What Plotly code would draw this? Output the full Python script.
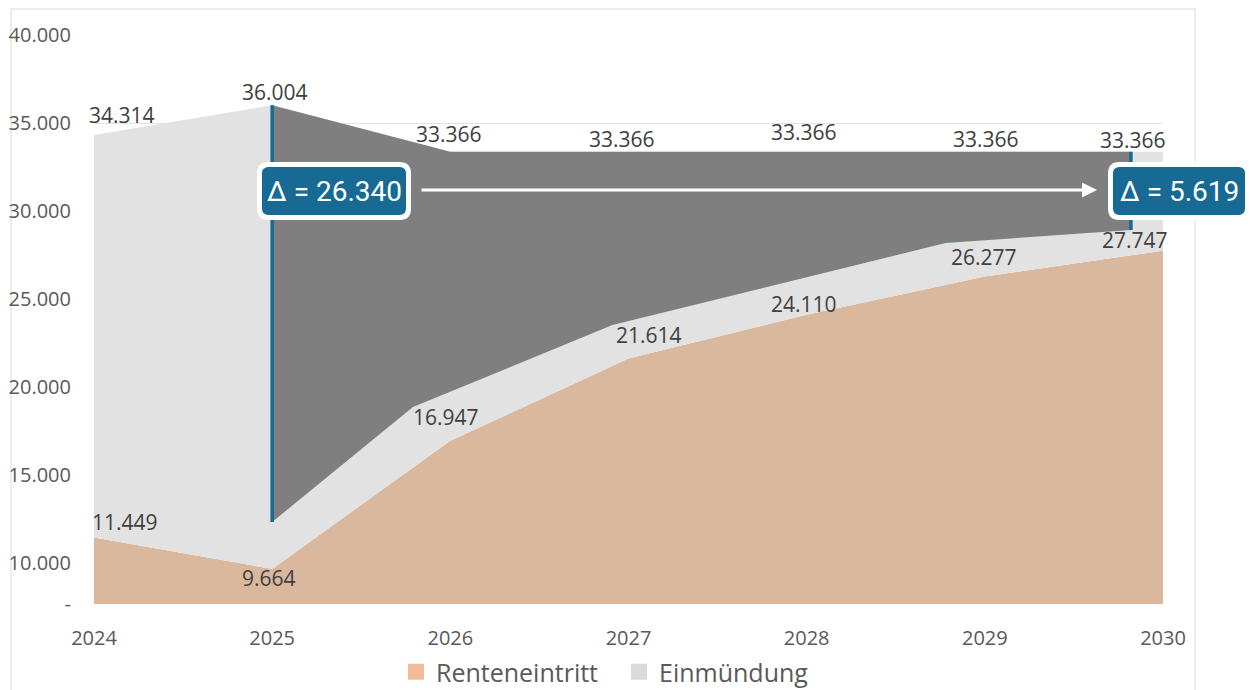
import plotly.graph_objects as go

# ---------------- data ----------------
years = [2024, 2025, 2026, 2027, 2028, 2029, 2030]
renteneintritt = [11449, 9664, 16947, 21614, 24110, 26277, 27747]
gesamt = [34314, 36004, 33366, 33366, 33366, 33366, 33366]   # Renteneintritt + Einmündung

# dark "gap" band overlay
gap_upper_x = [2025, 2026, 2029.82]
gap_upper_y = [36004, 33366, 33366]
gap_lower_x = [2029.82, 2028.78, 2026.91, 2025.79, 2025]
gap_lower_y = [28920, 28180, 23520, 18860, 12330]

y_tickvals = [7670, 10000, 15000, 20000, 25000, 30000, 35000, 40000]
y_ticktext = ["-", "10.000", "15.000", "20.000", "25.000", "30.000", "35.000", "40.000"]

# label offsets (px)
total_shift = [(28, 20), (3, 13), (-1, 18), (-7, 13), (-3, 20), (1, 13), (-30, 12)]
rente_shift = [(31, 15), (-3, -9), (-4, 24), (20, 24), (-3, 11), (-1, 20), (-28, 11)]

# ---------------- styles ----------------
C_ORANGE = "#dab89d"
C_LGRAY = "#e2e2e2"
C_DGRAY = "#7f7f7f"
C_BLUE = "#176a93"
C_TEXT = "#404040"
C_TICK = "#595959"
FONT = "Open Sans"

W, H = 1250, 690
L, R, T, B = 94, 87, 35, 86
PW, PH = W - L - R, H - T - B
Y0, Y1 = 7670, 40000


def fmt(v):
    return f"{v:,}".replace(",", ".")


def px2paper_x(px):
    return (px - L) / PW


def px2paper_y(py):
    return (H - B - py) / PH


def px2data_x(px):
    return years[0] + (px - L) / PW * (years[-1] - years[0])


def px2data_y(py):
    return Y0 + (H - B - py) / PH * (Y1 - Y0)


fig = go.Figure()

fig.add_trace(go.Scatter(x=years, y=renteneintritt, mode="none", fill="tozeroy",
                         fillcolor=C_ORANGE, showlegend=False, hoverinfo="skip"))
fig.add_trace(go.Scatter(x=years, y=gesamt, mode="none", fill="tonexty",
                         fillcolor=C_LGRAY, showlegend=False, hoverinfo="skip"))
fig.add_trace(go.Scatter(x=gap_upper_x + gap_lower_x, y=gap_upper_y + gap_lower_y,
                         mode="none", fill="toself", fillcolor=C_DGRAY,
                         showlegend=False, hoverinfo="skip"))
# vertical blue markers
fig.add_trace(go.Scatter(x=[gap_lower_x[-1], gap_upper_x[0]], y=[gap_lower_y[-1], gap_upper_y[0]],
                         mode="lines", line=dict(color=C_BLUE, width=3.5),
                         showlegend=False, hoverinfo="skip"))
fig.add_trace(go.Scatter(x=[gap_lower_x[0], gap_upper_x[-1]], y=[gap_lower_y[0], gap_upper_y[-1]],
                         mode="lines", line=dict(color=C_BLUE, width=3.5),
                         showlegend=False, hoverinfo="skip"))

# legend entries
fig.add_trace(go.Scatter(x=[None], y=[None], mode="markers", name="Renteneintritt",
                         marker=dict(symbol="square", size=17, color="#f2bd96")))
fig.add_trace(go.Scatter(x=[None], y=[None], mode="markers", name="Einmündung",
                         marker=dict(symbol="square", size=17, color="#dadada")))

annotations = []
for i, yr in enumerate(years):
    annotations.append(dict(x=yr, y=gesamt[i], text=fmt(gesamt[i]), showarrow=False,
                            xshift=total_shift[i][0], yshift=total_shift[i][1],
                            font=dict(family=FONT, size=21, color=C_TEXT)))
    annotations.append(dict(x=yr, y=renteneintritt[i], text=fmt(renteneintritt[i]), showarrow=False,
                            xshift=rente_shift[i][0], yshift=rente_shift[i][1],
                            font=dict(family=FONT, size=21, color=C_TEXT)))

delta_start = gesamt[1] - renteneintritt[1]
delta_end = gesamt[-1] - renteneintritt[-1]

# arrow
annotations.append(dict(x=px2data_x(1097), y=px2data_y(190), ax=px2data_x(420), ay=px2data_y(190),
                        xref="x", yref="y", axref="x", ayref="y", text="", showarrow=True,
                        arrowhead=2, arrowsize=1, arrowwidth=3, arrowcolor="white"))


def rrect(w, h, r):
    x0, x1, y0, y1 = -w / 2, w / 2, -h / 2, h / 2
    return (f"M{x0 + r},{y0} L{x1 - r},{y0} Q{x1},{y0} {x1},{y0 + r} "
            f"L{x1},{y1 - r} Q{x1},{y1} {x1 - r},{y1} L{x0 + r},{y1} "
            f"Q{x0},{y1} {x0},{y1 - r} L{x0},{y0 + r} Q{x0},{y0} {x0 + r},{y0} Z")


shapes = []
boxes = [(334, 191, 149, f"Δ = {fmt(delta_start)}"), (1179, 191, 137, f"Δ = {fmt(delta_end)}")]
for cx, cy, bw, txt in boxes:
    shapes.append(dict(type="path", xref="paper", yref="paper", xsizemode="pixel", ysizemode="pixel",
                       xanchor=px2paper_x(cx), yanchor=px2paper_y(cy), path=rrect(bw, 53, 9),
                       fillcolor=C_BLUE, line=dict(color="white", width=5), layer="above"))
    annotations.append(dict(x=px2paper_x(cx), y=px2paper_y(cy), xref="paper", yref="paper",
                            xanchor="center", yanchor="middle",
                            text=txt, showarrow=False,
                            font=dict(family="Roboto", size=28, color="white")))

# outer chart border
shapes.append(dict(type="rect", xref="paper", yref="paper",
                   x0=px2paper_x(11), x1=px2paper_x(1195), y0=px2paper_y(720), y1=px2paper_y(9),
                   line=dict(color="#d9d9d9", width=1), fillcolor="rgba(0,0,0,0)", layer="below"))

fig.update_layout(
    width=W, height=H,
    margin=dict(l=L, r=R, t=T, b=B, autoexpand=False),
    plot_bgcolor="white", paper_bgcolor="white",
    font=dict(family=FONT, color=C_TICK),
    xaxis=dict(range=[years[0], years[-1]], tickvals=years, ticktext=[str(y) for y in years],
               showgrid=False, zeroline=False, showline=False,
               ticks="outside", ticklen=16, tickcolor="rgba(0,0,0,0)",
               tickfont=dict(family=FONT, size=20, color=C_TICK)),
    yaxis=dict(range=[Y0, Y1], tickvals=y_tickvals, ticktext=y_ticktext,
               showgrid=True, gridcolor="#e3e3e3", gridwidth=1, zeroline=False, showline=False,
               ticks="outside", ticklen=18, tickcolor="rgba(0,0,0,0)",
               tickfont=dict(family=FONT, size=20, color=C_TICK)),
    legend=dict(orientation="h", x=px2paper_x(396), xanchor="left", y=px2paper_y(672), yanchor="middle",
                font=dict(family=FONT, size=25, color=C_TICK), bgcolor="rgba(0,0,0,0)",
                itemsizing="trace", traceorder="normal", entrywidth=178, entrywidthmode="pixels"),
    annotations=annotations,
    shapes=shapes,
)

fig.write_html("out.html")
